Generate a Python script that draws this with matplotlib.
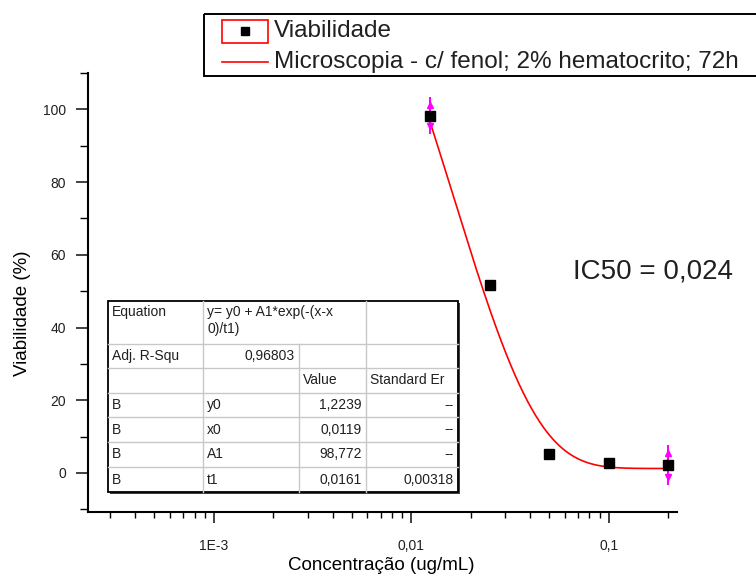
import numpy as np
import matplotlib
matplotlib.use("Agg")
import matplotlib.pyplot as plt
from matplotlib.patches import Rectangle
from matplotlib.ticker import FixedLocator, FixedFormatter, LogLocator, MultipleLocator

plt.rcParams['font.family'] = ['Liberation Sans', 'DejaVu Sans']

# measured viability
conc = [0.0125, 0.025, 0.05, 0.1, 0.2]
viab = [98.3, 51.8, 5.1, 2.75, 2.3]
viab_err = [5.0, 0.0, 0.0, 0.0, 5.5]

# ExpDec1 fit parameters
y0 = 1.2239
x0 = 0.0119
A1 = 98.772
t1 = 0.0161
t1_err = 0.00318
adj_r2 = 0.96803
ic50 = 0.024

xtick_vals = [1e-3, 1e-2, 1e-1]
xtick_labels = ['1E-3', '0,01', '0,1']
ytick_vals = [0, 20, 40, 60, 80, 100]

legend_labels = ['Viabilidade', 'Microscopia - c/ fenol; 2% hematocrito; 72h']


def br(v, fmt):
    return format(v, fmt).replace('.', ',')


W, H = 756, 575
fig = plt.figure(figsize=(W / 100, H / 100), dpi=100)

ax = fig.add_axes((88 / W, 1 - 511.5 / H, (677 - 88) / W, (511.5 - 73) / H))
ax.set_xscale('log')
ax.set_xlim(2.31e-4, 0.222)
ax.set_ylim(-10.6, 110)

xs = np.geomspace(conc[0], conc[-1], 300)
ax.plot(xs, y0 + A1 * np.exp(-(xs - x0) / t1), color='red', lw=1.2, zorder=2)

# error bars only where there is a spread
ex = [c for c, e in zip(conc, viab_err) if e > 0]
ey = [v for v, e in zip(viab, viab_err) if e > 0]
ee = [e for e in viab_err if e > 0]
ax.errorbar(ex, ey, yerr=ee, fmt='none', ecolor='#ff00ff', elinewidth=1.5,
            capsize=0, zorder=3)
ax.plot(ex, np.array(ey) + np.array(ee) * 0.6, '^', color='#ff00ff', ms=4.5,
        zorder=3)
ax.plot(ex, np.array(ey) - np.array(ee) * 0.6, 'v', color='#ff00ff', ms=4.5,
        zorder=3)
ax.plot(conc, viab, 's', color='black', ms=7, zorder=4)

for s in ['top', 'right']:
    ax.spines[s].set_visible(False)
for s in ['left', 'bottom']:
    ax.spines[s].set_linewidth(1.5)

ax.xaxis.set_major_locator(FixedLocator(xtick_vals))
ax.xaxis.set_major_formatter(FixedFormatter(xtick_labels))
ax.xaxis.set_minor_locator(LogLocator(base=10, subs=np.arange(2, 10)))
ax.yaxis.set_major_locator(FixedLocator(ytick_vals))
ax.yaxis.set_minor_locator(MultipleLocator(10))
ax.tick_params(axis='x', which='major', length=8, width=1.2, labelsize=10,
               pad=12, colors='#202020')
ax.tick_params(axis='x', which='minor', length=4, width=1.0)
ax.tick_params(axis='y', which='major', length=9, width=1.2, labelsize=10,
               pad=7, colors='#202020')
ax.tick_params(axis='y', which='minor', length=6, width=1.0)

ax.set_xlabel('Concentração (ug/mL)', fontsize=13.5, va='center')
ax.xaxis.set_label_coords((381 - 88) / (677 - 88), (511.5 - 565) / 438.5)
ax.set_ylabel('Viabilidade (%)', fontsize=13.5, va='center')
ax.yaxis.set_label_coords((23 - 88) / (677 - 88), (511.5 - 313) / 438.5)

# overlay in pixel units for the legend, fit table and annotation
ov = fig.add_axes((0, 0, 1, 1))
ov.set_xlim(0, W)
ov.set_ylim(H, 0)
ov.axis('off')

ov.text(573, 272, 'IC50 = ' + br(ic50, '.3f'), fontsize=20, va='center',
        ha='left', color='#202020')

# legend
ov.add_patch(Rectangle((204, 14), 700, 62, fill=False, ec='black', lw=1.4))
ov.add_patch(Rectangle((222, 20), 46, 22.5, fill=False, ec='red', lw=1.2))
ov.plot([245], [31], 's', color='black', ms=5.5)
ov.plot([222, 268], [62, 62], color='red', lw=1.2)
ov.text(274, 31, legend_labels[0], fontsize=17.5, va='center', color='#202020')
ov.text(274, 62, legend_labels[1], fontsize=17.5, va='center', color='#202020')

# fit results table
cols = [108, 203, 299, 366, 458]
rows = [301, 344, 368, 393, 417, 442, 467, 492]
params = [('y0', br(y0, '.4f'), '--'),
          ('x0', br(x0, '.4f'), '--'),
          ('A1', br(A1, '.3f'), '--'),
          ('t1', br(t1, '.4f'), br(t1_err, '.5f'))]

ov.add_patch(Rectangle((cols[0] + 2, rows[0] + 2), cols[-1] - cols[0],
                       rows[-1] - rows[0], fc='#404040', ec='none'))
ov.add_patch(Rectangle((cols[0], rows[0]), cols[-1] - cols[0],
                       rows[-1] - rows[0], fc='white', ec='none'))
grid = '#c8c8c8'
for r in rows[1:-1]:
    ov.plot([cols[0], cols[-1]], [r, r], color=grid, lw=1)
ov.plot([cols[1], cols[1]], [rows[0], rows[-1]], color=grid, lw=1)
ov.plot([cols[2], cols[2]], [rows[1], rows[-1]], color=grid, lw=1)
ov.plot([cols[3], cols[3]], [rows[0], rows[-1]], color=grid, lw=1)
ov.add_patch(Rectangle((cols[0], rows[0]), cols[-1] - cols[0],
                       rows[-1] - rows[0], fill=False, ec='black', lw=1.3))

tfs = 10
tc = '#202020'
pad = 4


def cell_left(c, r, s):
    ov.text(cols[c] + pad, (rows[r] + rows[r + 1]) / 2, s, fontsize=tfs,
            color=tc, ha='left', va='center')


def cell_right(c, r, s):
    ov.text(cols[c + 1] - pad, (rows[r] + rows[r + 1]) / 2, s, fontsize=tfs,
            color=tc, ha='right', va='center')


ov.text(cols[0] + pad, rows[0] + 4, 'Equation', fontsize=tfs, color=tc,
        va='top')
ov.text(cols[1] + pad, rows[0] + 4, 'y= y0 + A1*exp(-(x-x\n0)/t1)',
        fontsize=tfs, color=tc, va='top', linespacing=1.3)
cell_left(0, 1, 'Adj. R-Squ')
cell_right(1, 1, br(adj_r2, '.5f'))
cell_left(2, 2, 'Value')
cell_left(3, 2, 'Standard Er')
for i, (name, val, err) in enumerate(params):
    r = 3 + i
    cell_left(0, r, 'B')
    cell_left(1, r, name)
    cell_right(2, r, val)
    cell_right(3, r, err)

fig.savefig('out.png', dpi=100)
